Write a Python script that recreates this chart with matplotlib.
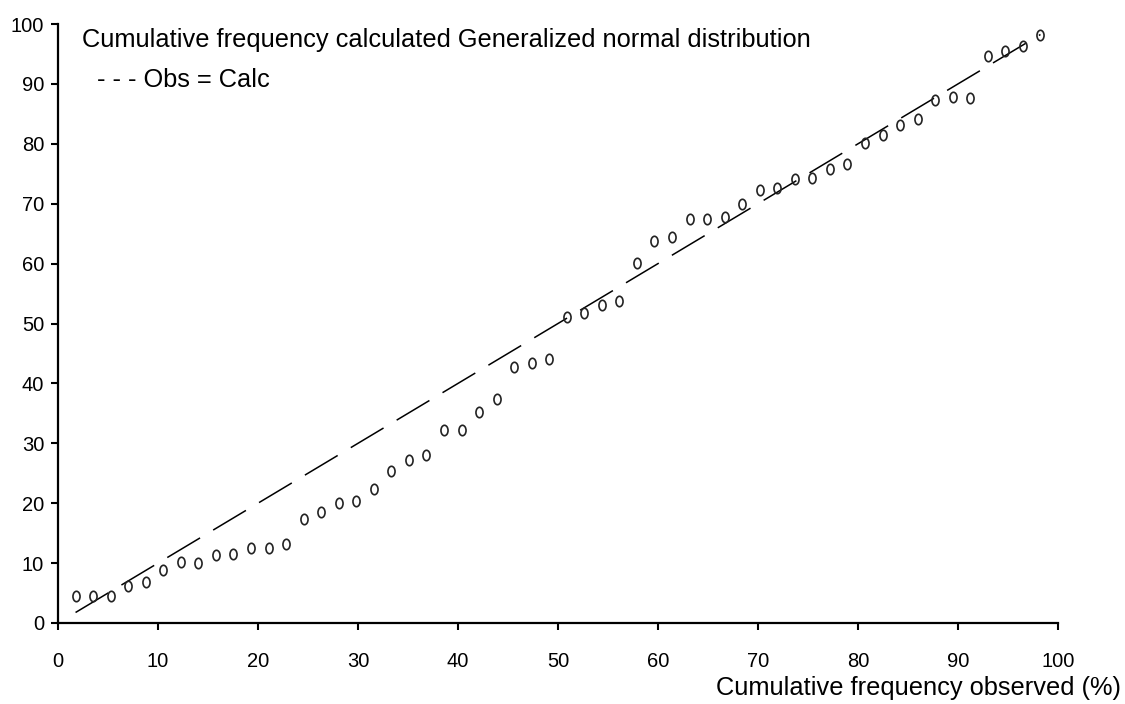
import matplotlib
matplotlib.use("Agg")
import matplotlib.pyplot as plt
import matplotlib.path as mpath
import matplotlib.transforms as mtransforms
import numpy as np

# observed cumulative frequency (%) -- plotting positions i/(n+1)
N = 56
obs = [100.0 * i / (N + 1) for i in range(1, N + 1)]
# calculated cumulative frequency (%)
calc = [4.5, 4.5, 4.5, 6.2, 6.9, 8.8, 10.2, 10.1, 11.3, 11.5,
        12.6, 12.6, 13.2, 17.3, 18.6, 20.0, 20.3, 22.3, 25.3, 27.2,
        28.0, 32.2, 32.2, 35.3, 37.4, 42.7, 43.4, 44.0, 51.1, 51.7,
        53.1, 53.7, 60.1, 63.7, 64.4, 67.4, 67.4, 67.8, 70.0, 72.3,
        72.6, 74.1, 74.3, 75.8, 76.6, 80.2, 81.5, 83.1, 84.1, 87.3,
        87.8, 87.7, 94.7, 95.5, 96.3, 98.2]
# Obs = Calc reference line
line_x = [obs[0], obs[-1]]
line_y = [obs[0], obs[-1]]

xticks = list(range(0, 101, 10))
yticks = list(range(0, 101, 10))

plt.rcParams["font.family"] = ["Liberation Sans", "DejaVu Sans"]
TICK_FS = 14.5
TEXT_FS = 18.3

fig = plt.figure(figsize=(11.25, 7.04), dpi=100)
ax = fig.add_axes([58 / 1125, 81 / 704, 1000 / 1125, 599 / 704])

ax.plot(line_x, line_y, color="black", lw=1.1, dashes=(25, 10), zorder=2)

# tall "o"-like marker
oval = mpath.Path.unit_circle().transformed(mtransforms.Affine2D().scale(0.68, 1.0))
ax.plot(obs, calc, linestyle="none", marker=oval, markersize=7.5,
        markerfacecolor="none", markeredgecolor="#222222", markeredgewidth=1.2,
        zorder=3)

ax.set_xlim(0, 100)
ax.set_ylim(0, 100)
ax.set_xticks(xticks)
ax.set_yticks(yticks)
for s in ("top", "right"):
    ax.spines[s].set_visible(False)
for s in ("left", "bottom"):
    ax.spines[s].set_linewidth(1.6)
ax.tick_params(axis="x", direction="out", length=5, width=1.5, pad=16, labelsize=TICK_FS)
ax.tick_params(axis="y", direction="out", length=5, width=1.5, pad=5, labelsize=TICK_FS)

fig.text(82 / 1125, 1 - 40 / 704,
         "Cumulative frequency calculated Generalized normal distribution",
         fontsize=TEXT_FS, va="center", ha="left")
fig.text(97 / 1125, 1 - 80 / 704, "- - - Obs = Calc", fontsize=TEXT_FS,
         va="center", ha="left")
fig.text(1121 / 1125, 1 - 688 / 704, "Cumulative frequency observed (%)",
         fontsize=TEXT_FS, va="center", ha="right")

fig.savefig("out.png", dpi=100)
